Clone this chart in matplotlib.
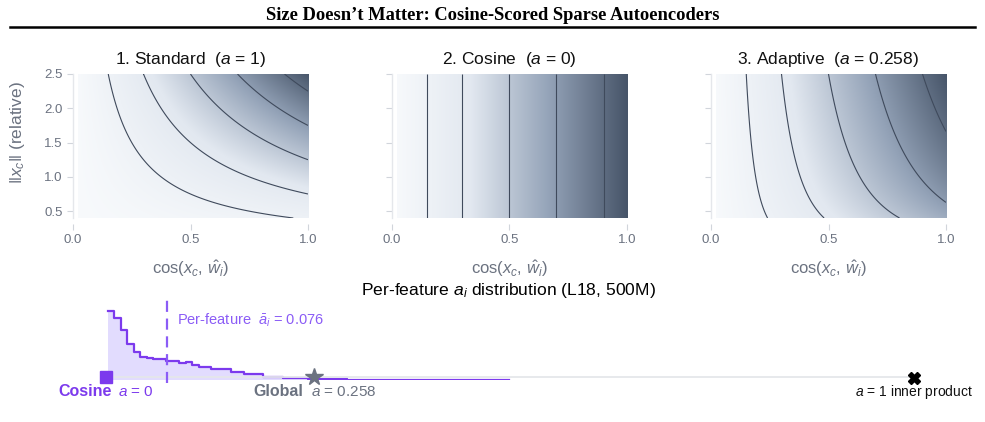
import numpy as np
import matplotlib
matplotlib.use('Agg')
import matplotlib.pyplot as plt
from matplotlib.colors import LinearSegmentedColormap
from matplotlib.lines import Line2D

plt.rcParams['font.family'] = ['Liberation Sans', 'DejaVu Sans']
plt.rcParams['mathtext.fontset'] = 'custom'
plt.rcParams['mathtext.rm'] = 'Liberation Sans'
plt.rcParams['mathtext.it'] = 'Liberation Sans:italic'
plt.rcParams['mathtext.bf'] = 'Liberation Sans:bold'

# ---------------- data ----------------
doc_title = "Size Doesn\u2019t Matter: Cosine-Scored Sparse Autoencoders"
panel_titles = ["1. Standard  ($a$ = 1)", "2. Cosine  ($a$ = 0)", "3. Adaptive  ($a$ = 0.258)"]
panel_a = [1.0, 0.0, 0.258]
contour_fracs = [0.15, 0.3, 0.5, 0.7, 0.9]
cos_range = [0.02, 1.0]
norm_range = [0.4, 2.5]
x_ticks = [0.0, 0.5, 1.0]
y_ticks = [0.5, 1.0, 1.5, 2.0, 2.5]

hist_range = [0.0025, 0.4985]
hist_heights = [69, 62.3, 50, 36, 28.3, 23.3, 21.7, 20.7, 20.7, 19, 19, 16.7, 17.7, 15,
                13.3, 13.3, 10.7, 10.7, 10.7, 7.7, 7.7, 5.7, 5.7, 5.7, 3.3, 3.3, 3.3,
                1.7, 1.7, 1.7, 1.7, 0.8, 0.8, 0.7, 0.7, 0.6, 0.6, 0.5, 0.5, 0.4, 0.4,
                0.35, 0.3, 0.3, 0.25, 0.2, 0.2, 0.15, 0.15, 0.1, 0.1, 0.1, 0.08, 0.08,
                0.06, 0.06, 0.05, 0.05, 0.04, 0.04, 0.03, 0.03]
a_mean_per_feature = 0.076
a_global = 0.258
a_cosine = 0.0
a_inner = 1.0

# ---------------- style ----------------
GRAY = '#6b7280'
SPINE = '#e5e7eb'
TICK = '#d1d5db'
PURPLE = '#7c3aed'
PURPLE_L = '#8b5cf6'
cmap = LinearSegmentedColormap.from_list(
    'slate', ['#f8fafc', '#e2e8f0', '#94a3b8', '#475569'])

W, H = 985, 422
fig = plt.figure(figsize=(W / 100, H / 100), dpi=100)

fig.text(0.5, 1 - 15 / H, doc_title, ha='center', va='center',
         family='Liberation Serif', fontweight='bold', fontsize=13.3)
fig.add_artist(Line2D([10 / W, 975 / W], [1 - 27 / H] * 2, color='black', lw=1.8))

lefts = [73, 392, 711]
cos = np.linspace(cos_range[0], cos_range[1], 400)
nrm = np.linspace(norm_range[0], norm_range[1], 400)
C, N = np.meshgrid(cos, nrm)

for i, (left, a, title) in enumerate(zip(lefts, panel_a, panel_titles)):
    ax = fig.add_axes([left / W, (H - 218) / H, 235 / W, 144 / H])
    S = C * N ** a
    smax = S.max()
    ax.imshow(S / smax, extent=[cos_range[0], cos_range[1], norm_range[0], norm_range[1]],
              origin='lower', aspect='auto', cmap=cmap, vmin=0, vmax=1,
              interpolation='bilinear')
    ax.contour(C, N, S, levels=[f * smax for f in contour_fracs],
               colors='#3f4a5c', linewidths=0.8)
    ax.set_xlim(0, 1)
    ax.set_ylim(norm_range[0], norm_range[1])
    for s in ['top', 'right', 'bottom']:
        ax.spines[s].set_visible(False)
    ax.spines['left'].set_color(SPINE)
    ax.spines['left'].set_linewidth(1.0)
    ax.spines['bottom'].set_position(('outward', 4))
    ax.set_xticks(x_ticks)
    ax.set_xticklabels([f'{t:.1f}' for t in x_ticks])
    ax.set_yticks(y_ticks)
    ax.tick_params(colors=TICK, labelcolor=GRAY, length=4, width=0.8, labelsize=9.5)
    if i == 0:
        ax.set_yticklabels([f'{t:.1f}' for t in y_ticks])
    else:
        ax.tick_params(labelleft=False)
    ax.set_xlabel(r'$\cos(x_c,\, \hat{w}_i)$', color=GRAY, fontsize=12, labelpad=9)
    ax.set_title(title, fontsize=12.5, pad=7, color='#111111')

fig.text(18 / W, 1 - 133 / H, r'$\|x_c\|$ (relative)', rotation=90, color=GRAY,
         fontsize=12.5, ha='center', va='center')

# ---------------- bottom distribution strip ----------------
bx = fig.add_axes([106 / W, (H - 380) / H, 808 / W, 80 / H])
bx.set_xlim(0, 1)
bx.set_ylim(0, 80)
bx.axis('off')
edges = np.linspace(hist_range[0], hist_range[1], len(hist_heights) + 1)
bx.stairs(hist_heights, edges, fill=True, color='#ddd6fe', alpha=0.85, zorder=1)
step_y = list(hist_heights) + [hist_heights[-1]]
bx.plot(edges, step_y, drawstyle='steps-post', color=PURPLE, lw=1.6, zorder=2)
bx.plot([0, 1], [2.6, 2.6], color=SPINE, lw=1.3, zorder=3, solid_capstyle='butt')

bx.plot([a_mean_per_feature] * 2, [-3, 80], color=PURPLE_L, lw=1.6,
        ls=(0, (5, 3)), zorder=4, clip_on=False)
bx.text(0.0875, 60, r'Per-feature  $\bar{a}_i$ = 0.076', color=PURPLE_L,
        fontsize=10.5, va='center', ha='left')

bx.plot([a_cosine], [3], marker='s', ms=9, color=PURPLE, zorder=5, clip_on=False)
bx.plot([a_global], [3.3], marker='*', ms=13, color=GRAY, zorder=5, clip_on=False)
bx.plot([a_inner], [2], marker='X', ms=9, color='black', zorder=5, clip_on=False)

bx.text(-0.059, -12, 'Cosine', color=PURPLE, fontweight='bold', fontsize=11.5,
        va='center', ha='left')
bx.text(0.0145, -12, r'$a$ = 0', color=PURPLE, fontsize=11, va='center', ha='left')
bx.text(0.182, -12, 'Global', color=GRAY, fontweight='bold', fontsize=11.5,
        va='center', ha='left')
bx.text(0.2533, -12, r'$a$ = 0.258', color=GRAY, fontsize=11, va='center', ha='left')
bx.text(1.073, -12, r'$a$ = 1 inner product', color='#111111', fontsize=10,
        va='center', ha='right')

fig.text(509 / W, 1 - 291 / H, r'Per-feature $a_i$ distribution (L18, 500M)',
         ha='center', va='center', fontsize=12.6)

fig.savefig('out.png', dpi=100)
